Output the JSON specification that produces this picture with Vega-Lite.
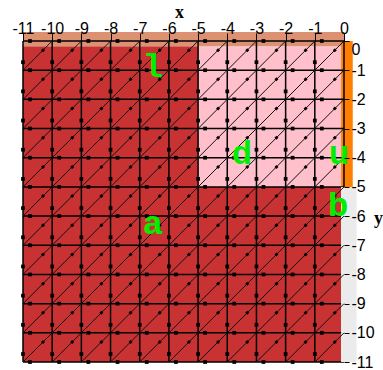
{
  "$schema": "https://vega.github.io/schema/vega-lite/v6.json",
  "width": 321,
  "height": 321,
  "autosize": "none",
  "padding": {"left": 23, "top": 41, "right": 39, "bottom": 8},
  "background": "white",
  "config": {"view": {"stroke": null}, "axis": {"labelOverlap": false, "labelFlush": false, "labelBound": false, "zindex": 1, "tickCount": 20}},
  "datasets": {
    "regions": [
      {"region": "l", "x": -11, "x2": -5, "y": -0.18, "y2": -5},
      {"region": "a", "x": -11, "x2": -0.1, "y": -5, "y2": -11},
      {"region": "d", "x": -5, "x2": -0.1, "y": -0.18, "y2": -5},
      {"region": "top", "x": -11, "x2": 0, "y": 0.31, "y2": -0.18},
      {"region": "u", "x": -0.1, "x2": 0.3, "y": 0, "y2": -5}
    ],
    "grayregion": [
      {"region": "b", "x": -0.1, "x2": 0.43, "y": -5, "y2": -11}
    ],
    "lines": [
      {"v": -11}, {"v": -10}, {"v": -9}, {"v": -8}, {"v": -7}, {"v": -6},
      {"v": -5}, {"v": -4}, {"v": -3}, {"v": -2}, {"v": -1}, {"v": 0}
    ],
    "diag": [
      {"x0": -1, "y0": -11, "x1": 0, "y1": -10},
      {"x0": -2, "y0": -11, "x1": 0, "y1": -9},
      {"x0": -3, "y0": -11, "x1": 0, "y1": -8},
      {"x0": -4, "y0": -11, "x1": 0, "y1": -7},
      {"x0": -5, "y0": -11, "x1": 0, "y1": -6},
      {"x0": -6, "y0": -11, "x1": 0, "y1": -5},
      {"x0": -7, "y0": -11, "x1": 0, "y1": -4},
      {"x0": -8, "y0": -11, "x1": 0, "y1": -3},
      {"x0": -9, "y0": -11, "x1": 0, "y1": -2},
      {"x0": -10, "y0": -11, "x1": 0, "y1": -1},
      {"x0": -11, "y0": -11, "x1": 0, "y1": 0},
      {"x0": -11, "y0": -10, "x1": -1, "y1": 0},
      {"x0": -11, "y0": -9, "x1": -2, "y1": 0},
      {"x0": -11, "y0": -8, "x1": -3, "y1": 0},
      {"x0": -11, "y0": -7, "x1": -4, "y1": 0},
      {"x0": -11, "y0": -6, "x1": -5, "y1": 0},
      {"x0": -11, "y0": -5, "x1": -6, "y1": 0},
      {"x0": -11, "y0": -4, "x1": -7, "y1": 0},
      {"x0": -11, "y0": -3, "x1": -8, "y1": 0},
      {"x0": -11, "y0": -2, "x1": -9, "y1": 0},
      {"x0": -11, "y0": -1, "x1": -10, "y1": 0}
    ],
    "nodes": [
      {"i":-11,"j":0},{"i":-10,"j":0},{"i":-9,"j":0},{"i":-8,"j":0},{"i":-7,"j":0},{"i":-6,"j":0},{"i":-5,"j":0},{"i":-4,"j":0},{"i":-3,"j":0},{"i":-2,"j":0},{"i":-1,"j":0},{"i":0,"j":0},
      {"i":-11,"j":-1},{"i":-10,"j":-1},{"i":-9,"j":-1},{"i":-8,"j":-1},{"i":-7,"j":-1},{"i":-6,"j":-1},{"i":-5,"j":-1},{"i":-4,"j":-1},{"i":-3,"j":-1},{"i":-2,"j":-1},{"i":-1,"j":-1},{"i":0,"j":-1},
      {"i":-11,"j":-2},{"i":-10,"j":-2},{"i":-9,"j":-2},{"i":-8,"j":-2},{"i":-7,"j":-2},{"i":-6,"j":-2},{"i":-5,"j":-2},{"i":-4,"j":-2},{"i":-3,"j":-2},{"i":-2,"j":-2},{"i":-1,"j":-2},{"i":0,"j":-2},
      {"i":-11,"j":-3},{"i":-10,"j":-3},{"i":-9,"j":-3},{"i":-8,"j":-3},{"i":-7,"j":-3},{"i":-6,"j":-3},{"i":-5,"j":-3},{"i":-4,"j":-3},{"i":-3,"j":-3},{"i":-2,"j":-3},{"i":-1,"j":-3},{"i":0,"j":-3},
      {"i":-11,"j":-4},{"i":-10,"j":-4},{"i":-9,"j":-4},{"i":-8,"j":-4},{"i":-7,"j":-4},{"i":-6,"j":-4},{"i":-5,"j":-4},{"i":-4,"j":-4},{"i":-3,"j":-4},{"i":-2,"j":-4},{"i":-1,"j":-4},{"i":0,"j":-4},
      {"i":-11,"j":-5},{"i":-10,"j":-5},{"i":-9,"j":-5},{"i":-8,"j":-5},{"i":-7,"j":-5},{"i":-6,"j":-5},{"i":-5,"j":-5},{"i":-4,"j":-5},{"i":-3,"j":-5},{"i":-2,"j":-5},{"i":-1,"j":-5},{"i":0,"j":-5},
      {"i":-11,"j":-6},{"i":-10,"j":-6},{"i":-9,"j":-6},{"i":-8,"j":-6},{"i":-7,"j":-6},{"i":-6,"j":-6},{"i":-5,"j":-6},{"i":-4,"j":-6},{"i":-3,"j":-6},{"i":-2,"j":-6},{"i":-1,"j":-6},{"i":0,"j":-6},
      {"i":-11,"j":-7},{"i":-10,"j":-7},{"i":-9,"j":-7},{"i":-8,"j":-7},{"i":-7,"j":-7},{"i":-6,"j":-7},{"i":-5,"j":-7},{"i":-4,"j":-7},{"i":-3,"j":-7},{"i":-2,"j":-7},{"i":-1,"j":-7},{"i":0,"j":-7},
      {"i":-11,"j":-8},{"i":-10,"j":-8},{"i":-9,"j":-8},{"i":-8,"j":-8},{"i":-7,"j":-8},{"i":-6,"j":-8},{"i":-5,"j":-8},{"i":-4,"j":-8},{"i":-3,"j":-8},{"i":-2,"j":-8},{"i":-1,"j":-8},{"i":0,"j":-8},
      {"i":-11,"j":-9},{"i":-10,"j":-9},{"i":-9,"j":-9},{"i":-8,"j":-9},{"i":-7,"j":-9},{"i":-6,"j":-9},{"i":-5,"j":-9},{"i":-4,"j":-9},{"i":-3,"j":-9},{"i":-2,"j":-9},{"i":-1,"j":-9},{"i":0,"j":-9},
      {"i":-11,"j":-10},{"i":-10,"j":-10},{"i":-9,"j":-10},{"i":-8,"j":-10},{"i":-7,"j":-10},{"i":-6,"j":-10},{"i":-5,"j":-10},{"i":-4,"j":-10},{"i":-3,"j":-10},{"i":-2,"j":-10},{"i":-1,"j":-10},{"i":0,"j":-10},
      {"i":-11,"j":-11},{"i":-10,"j":-11},{"i":-9,"j":-11},{"i":-8,"j":-11},{"i":-7,"j":-11},{"i":-6,"j":-11},{"i":-5,"j":-11},{"i":-4,"j":-11},{"i":-3,"j":-11},{"i":-2,"j":-11},{"i":-1,"j":-11},{"i":0,"j":-11}
    ],
    "labels": [
      {"t": "l", "x": -6.55, "y": -1.22},
      {"t": "a", "x": -6.55, "y": -6.63},
      {"t": "d", "x": -3.5, "y": -4.23},
      {"t": "u", "x": -0.17, "y": -4.23},
      {"t": "b", "x": -0.2, "y": -6.0}
    ]
  },
  "layer": [
    {
      "data": {"name": "regions"},
      "mark": {"type": "rect"},
      "encoding": {
        "x": {
          "field": "x", "type": "quantitative",
          "scale": {"domain": [-11, 0], "nice": false, "zero": false},
          "axis": {
            "orient": "top",
            "values": [-11, -10, -9, -8, -7, -6, -5, -4, -3, -2, -1, 0],
            "tickCount": 20,
            "labelExpr": "'' + datum.value",
            "labelOverlap": false, "labelFlush": false, "labelBound": false,
            "domain": false, "grid": false, "zindex": 1,
            "tickColor": "black", "tickSize": 8, "tickWidth": 1,
            "labelPadding": 0, "labelBaseline": "alphabetic",
            "labelFont": "Liberation Sans", "labelFontSize": 16, "labelColor": "black",
            "title": "x", "titleFont": "Liberation Serif", "titleFontWeight": "bold",
            "titleFontSize": 18, "titleColor": "black",
            "titleX": 156, "titleY": -24, "titleAlign": "center", "titleBaseline": "alphabetic"
          }
        },
        "x2": {"field": "x2"},
        "y": {
          "field": "y", "type": "quantitative",
          "scale": {"domain": [-11, 0], "nice": false, "zero": false},
          "axis": {
            "orient": "right",
            "values": [-11, -10, -9, -8, -7, -6, -5, -4, -3, -2, -1, 0],
            "tickCount": 20,
            "labelExpr": "'' + datum.value",
            "labelOverlap": false, "labelFlush": false, "labelBound": false,
            "domain": false, "grid": false, "zindex": 1,
            "tickColor": "black", "tickSize": 5, "tickWidth": 1,
            "labelPadding": 2, "labelAlign": "left",
            "labelBaseline": {"condition": {"test": "datum.value == 0", "value": "top"}, "value": "middle"},
            "labelFont": "Liberation Sans", "labelFontSize": 16, "labelColor": "black",
            "title": "y", "titleFont": "Liberation Serif", "titleFontWeight": "bold",
            "titleFontSize": 18, "titleColor": "black", "titleAngle": 0,
            "titleX": 34, "titleY": 182, "titleAlign": "center", "titleBaseline": "alphabetic"
          }
        },
        "y2": {"field": "y2"},
        "color": {
          "field": "region", "type": "nominal",
          "scale": {"domain": ["l", "a", "d", "top", "u", "b"], "range": ["#c83232", "#c83232", "#ffc0cb", "#dc9173", "#ff8000", "#ebebeb"]},
          "legend": null
        }
      }
    },
    {
      "data": {"name": "lines"},
      "mark": {"type": "rule", "color": "black", "strokeWidth": 1.5},
      "encoding": {"x": {"field": "v", "type": "quantitative"}}
    },
    {
      "data": {"name": "lines"},
      "mark": {"type": "rule", "color": "black", "strokeWidth": 1.5},
      "encoding": {"y": {"field": "v", "type": "quantitative"}}
    },
    {
      "data": {"name": "grayregion"},
      "mark": {"type": "rect", "color": "#ebebeb"},
      "encoding": {
        "x": {"field": "x", "type": "quantitative"},
        "x2": {"field": "x2"},
        "y": {"field": "y", "type": "quantitative"},
        "y2": {"field": "y2"}
      }
    },
    {
      "data": {"name": "diag"},
      "mark": {"type": "rule", "color": "#111111", "strokeWidth": 1},
      "encoding": {
        "x": {"field": "x0", "type": "quantitative"},
        "y": {"field": "y0", "type": "quantitative"},
        "x2": {"field": "x1"},
        "y2": {"field": "y1"}
      }
    },
    {
      "data": {"name": "nodes"},
      "transform": [{"filter": "datum.i < 0"}],
      "mark": {"type": "point", "shape": "square", "filled": true, "size": 14, "color": "black", "opacity": 1, "xOffset": 7},
      "encoding": {
        "x": {"field": "i", "type": "quantitative"},
        "y": {"field": "j", "type": "quantitative"}
      }
    },
    {
      "data": {"name": "nodes"},
      "transform": [{"filter": "datum.j < 0 && datum.i < 0"}],
      "mark": {"type": "point", "shape": "square", "filled": true, "size": 14, "color": "black", "opacity": 1, "yOffset": -8},
      "encoding": {
        "x": {"field": "i", "type": "quantitative"},
        "y": {"field": "j", "type": "quantitative"}
      }
    },
    {
      "data": {"name": "nodes"},
      "transform": [{"filter": "datum.i < 0 && datum.j < 0"}],
      "mark": {"type": "point", "shape": "diamond", "filled": true, "size": 16, "color": "black", "opacity": 1, "xOffset": 20, "yOffset": -20},
      "encoding": {
        "x": {"field": "i", "type": "quantitative"},
        "y": {"field": "j", "type": "quantitative"}
      }
    },
    {
      "data": {"name": "labels"},
      "mark": {"type": "text", "font": "Liberation Mono", "fontWeight": "bold", "fontSize": 34, "color": "#00ee00", "align": "center", "baseline": "alphabetic"},
      "encoding": {
        "x": {"field": "x", "type": "quantitative"},
        "y": {"field": "y", "type": "quantitative"},
        "text": {"field": "t"}
      }
    }
  ]
}
